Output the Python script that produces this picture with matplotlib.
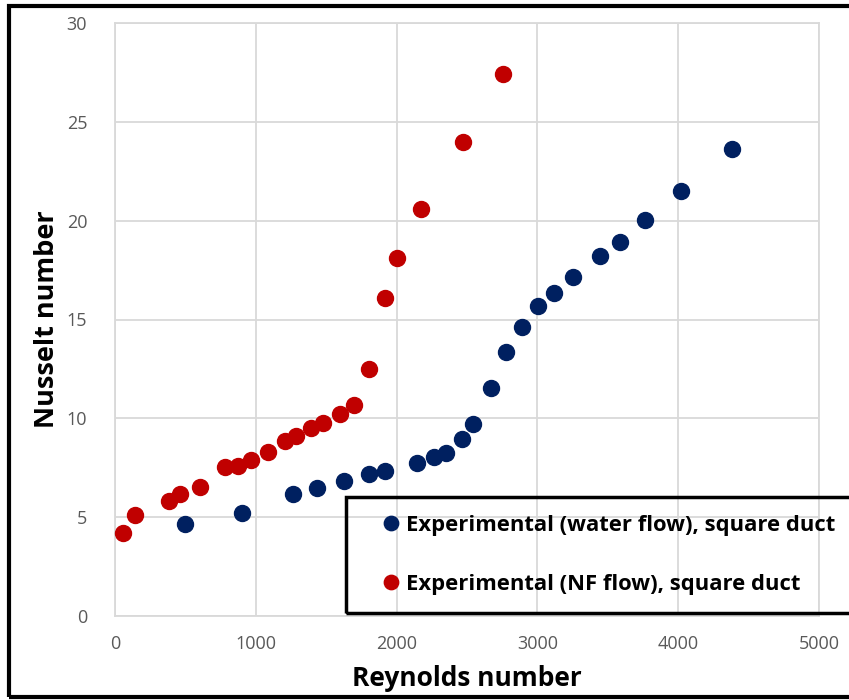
import numpy as np
import matplotlib.pyplot as plt
from matplotlib.patches import Rectangle

# values
re_water = [497, 902, 1264, 1435, 1626, 1804, 1918, 2145, 2266, 2351, 2464, 2543,
            2670, 2777, 2891, 3004, 3118, 3253, 3445, 3587, 3764, 4020, 4382]
nu_water = [4.65, 5.2, 6.17, 6.5, 6.83, 7.18, 7.33, 7.74, 8.04, 8.24, 8.95, 9.71,
            11.53, 13.35, 14.62, 15.68, 16.34, 17.15, 18.2, 18.92, 20.03, 21.5, 23.62]

re_nf = [57, 142, 384, 462, 604, 781, 874, 966, 1087, 1207, 1286, 1392, 1477,
         1598, 1697, 1804, 1918, 2003, 2173, 2472, 2756]
nu_nf = [4.2, 5.1, 5.83, 6.17, 6.52, 7.54, 7.59, 7.89, 8.3, 8.85, 9.1, 9.5, 9.76,
         10.2, 10.67, 12.5, 16.1, 18.1, 20.6, 24.0, 27.4]

labels = ["Experimental (water flow), square duct",
          "Experimental (NF flow), square duct"]

plt.rcParams["font.family"] = ["Open Sans", "DejaVu Sans"]

fig = plt.figure(figsize=(8.49, 7), dpi=100)
ax = fig.add_axes([115 / 849, 84 / 700, 704 / 849, 593 / 700])

ax.plot(re_water, nu_water, "o", color="#002060", ms=11.5, label=labels[0],
        clip_on=False, zorder=3)
ax.plot(re_nf, nu_nf, "o", color="#C00000", ms=11.5, label=labels[1],
        clip_on=False, zorder=3)

ax.set_xlim(0, 5000)
ax.set_ylim(0, 30)
ax.set_xticks(np.arange(0, 5001, 1000))
ax.set_yticks(np.arange(0, 31, 5))
ax.grid(True, color="#D9D9D9", lw=1.3)
ax.set_axisbelow(True)
for s in ax.spines.values():
    s.set_color("#D9D9D9")
    s.set_linewidth(1.3)
ax.tick_params(length=0, labelsize=13, colors="#595959", pad=14)
ax.tick_params(axis="y", pad=20)

ax.set_xlabel("Reynolds number", fontsize=19, fontweight="bold", labelpad=8)
ax.set_ylabel("Nusselt number", fontsize=19.5, fontweight="bold", labelpad=5)

leg = fig.legend(loc="upper left", bbox_to_anchor=(360 / 849, 1 - 495 / 700),
                 frameon=False, handletextpad=0.2,
                 labelspacing=1.75, handlelength=1.0, markerscale=0.9,
                 prop={"weight": "bold", "size": 15.8})

# legend frame (cut off at the right like the original)
fig.patches.append(Rectangle((346 / 849, 1 - 613 / 700), 0.7, 116 / 700,
                             transform=fig.transFigure, fill=False,
                             ec="black", lw=2.5))
# outer chart border
fig.patches.append(Rectangle((9 / 849, 3 / 700), 1.2, 691 / 700,
                             transform=fig.transFigure, fill=False,
                             ec="black", lw=3))

fig.savefig("out.png", dpi=100)
